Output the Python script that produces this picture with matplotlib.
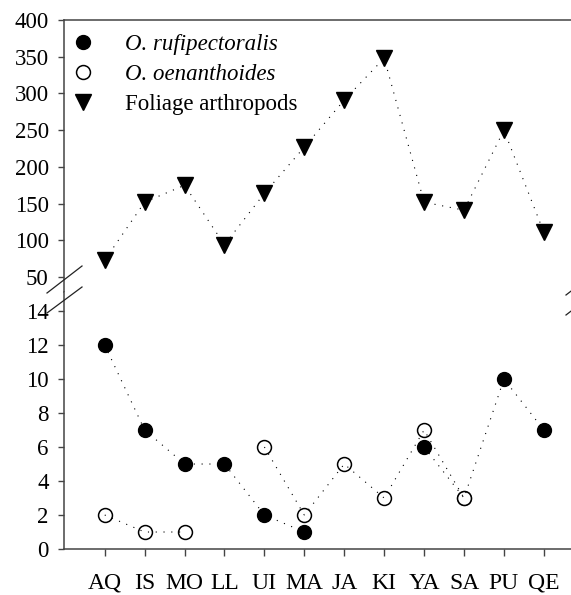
import numpy as np
import matplotlib
matplotlib.use("Agg")
import matplotlib.pyplot as plt
from matplotlib.lines import Line2D

plt.rcParams['font.family'] = ['Liberation Serif', 'DejaVu Serif']

sites = ['AQ', 'IS', 'MO', 'LL', 'UI', 'MA', 'JA', 'KI', 'YA', 'SA', 'PU', 'QE']
rufipectoralis = [12, 7, 5, 5, 2, 1, np.nan, np.nan, 6, 3, 10, 7]
oenanthoides = [2, 1, 1, np.nan, 6, 2, 5, 3, 7, 3, np.nan, np.nan]
arthropods = [73, 152, 175, 94, 164, 227, 291, 348, 152, 141, 250, 111]

x = np.arange(len(sites))
spine_col = '#444444'
dots = (0, (1, 6))

fig = plt.figure(figsize=(5.71, 5.95), dpi=100)
ax_top = fig.add_axes([0.1121, 0.5092, 0.8879, 0.4572])
ax_bot = fig.add_axes([0.1121, 0.0773, 0.8879, 0.4319])

for ax in (ax_top, ax_bot):
    ax.set_xlim(-1.02, 11.68)
    ax.spines['right'].set_visible(False)
    ax.spines['left'].set_color(spine_col)
    ax.spines['left'].set_linewidth(1.1)
    ax.tick_params(axis='y', direction='out', length=4, width=1, color=spine_col,
                   labelsize=16.5, pad=7)

# top panel: foliage arthropods
ax_top.spines['bottom'].set_visible(False)
ax_top.spines['top'].set_color(spine_col)
ax_top.spines['top'].set_linewidth(1.1)
ax_top.set_ylim(29.6, 400)
ax_top.set_yticks([50, 100, 150, 200, 250, 300, 350, 400])
ax_top.set_xticks([])
ax_top.plot(x, arthropods, color='black', lw=0.8, linestyle=dots, zorder=3)
ax_top.plot(x, arthropods, 'v', color='black', ms=11, zorder=2)

# bottom panel: birds
ax_bot.spines['top'].set_visible(False)
ax_bot.spines['bottom'].set_color(spine_col)
ax_bot.spines['bottom'].set_linewidth(1.1)
ax_bot.set_ylim(0, 15.12)
ax_bot.set_yticks(range(0, 15, 2))
ax_bot.set_xticks(x)
ax_bot.set_xticklabels(sites)
ax_bot.tick_params(axis='x', direction='out', length=5, width=1, color=spine_col,
                   labelsize=17, pad=12)
ax_bot.plot(x, rufipectoralis, 'o', color='black', ms=10, zorder=2)
ax_bot.plot(x, oenanthoides, 'o', mfc='white', mec='black', mew=1.1, ms=10, zorder=2.5)
ax_bot.plot(x, rufipectoralis, color='black', lw=0.8, linestyle=dots, zorder=3)
ax_bot.plot(x, oenanthoides, color='black', lw=0.8, linestyle=dots, zorder=3)

# legend
handles = [
    Line2D([], [], marker='o', ls='none', color='black', ms=10),
    Line2D([], [], marker='o', ls='none', mfc='white', mec='black', mew=1.1, ms=10),
    Line2D([], [], marker='v', ls='none', color='black', ms=11),
]
labels = ['O. rufipectoralis', 'O. oenanthoides', 'Foliage arthropods']
leg = ax_top.legend(handles, labels, loc='upper left', frameon=False, fontsize=16.5,
                    bbox_to_anchor=(-0.01, 1.0), handlelength=0.86, handletextpad=1.4,
                    labelspacing=0.38, borderaxespad=0.0, borderpad=0.62)
for t in leg.get_texts()[:2]:
    t.set_fontstyle('italic')

# break marks
W, H = 571.0, 595.0
for (x0, y0, x1, y1) in [(47, 293, 82, 266), (47, 313, 82, 287),
                         (566, 295, 601, 268), (566, 315, 601, 288)]:
    fig.add_artist(Line2D([x0 / W, x1 / W], [1 - y0 / H, 1 - y1 / H],
                          color='#222222', lw=0.9, clip_on=False))

fig.savefig('out.png', dpi=100)
